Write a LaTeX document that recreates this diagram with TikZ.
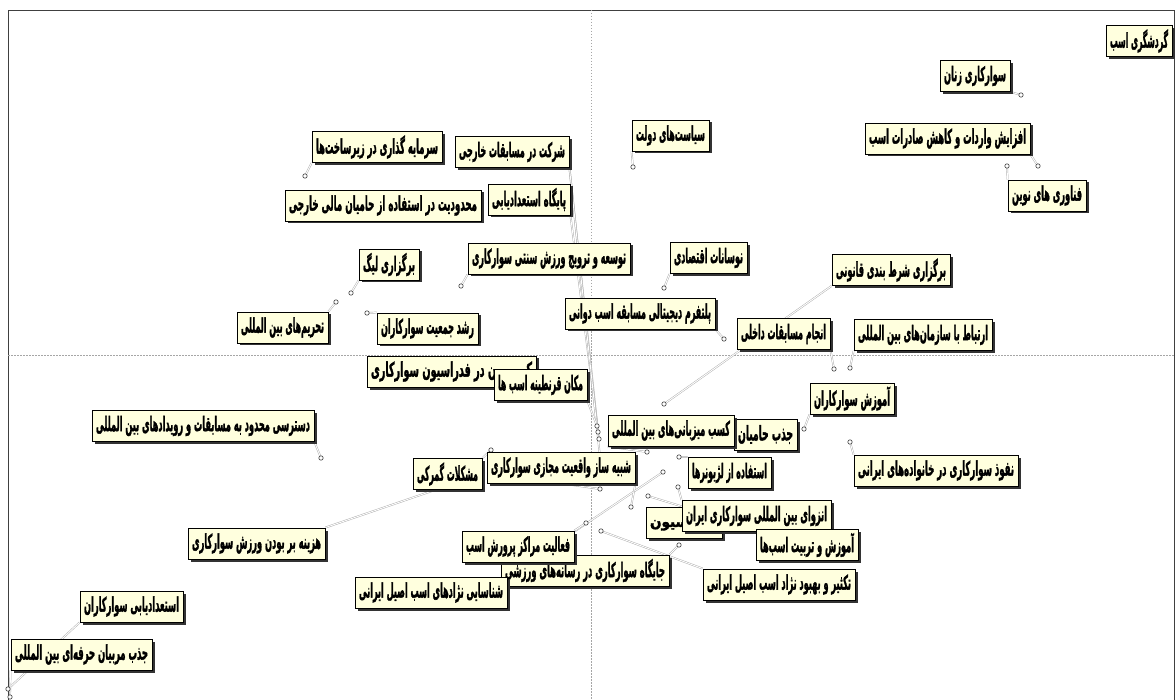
\documentclass[tikz,border=0pt]{standalone}
\usepackage{fontspec}
\usepackage{graphicx}
\usetikzlibrary{shadows}
\newfontfamily\farsi[Script=Arabic,FakeBold=2.2]{DejaVu Sans Bold}
\TeXXeTstate=1
\definecolor{boxfill}{RGB}{255,255,222}
\newsavebox\ptbox
\newcommand{\ptxt}[2]{\sbox\ptbox{\farsi #2}%
  \ifdim\wd\ptbox>\dimexpr#1pt-8pt\relax
    \resizebox{\dimexpr#1pt-8pt\relax}{\height}{\usebox\ptbox}%
  \else\usebox\ptbox\fi}
\newcommand{\plab}[5]{\node[lbl, minimum width=#4pt] (#1) at (#2,#3) {\ptxt{#4}{#5}};}
\pgfdeclarelayer{bg}
\pgfsetlayers{bg,main}
\tikzset{
  lbl/.style={draw=black, line width=0.9pt, fill=boxfill, inner sep=0pt, minimum height=31pt,
    drop shadow={shadow xshift=2.5pt, shadow yshift=-2.5pt, fill=black!80, opacity=1},
    font=\fontsize{20}{22}\selectfont},
  leader/.style={draw=gray!65, double=white, double distance=0.9pt, line width=0.45pt},
  ptmark/.style={draw=gray!50!black, line width=0.6pt, fill=white},
  axisline/.style={gray!70, line width=0.5pt, dash pattern=on 1.5pt off 1.5pt},
  framel/.style={black!75, line width=0.8pt}
}
\begin{document}
\begin{tikzpicture}[x=1pt,y=-1pt]
\useasboundingbox (0,0) rectangle (1175,700);
% labels
\plab{n1}{1139}{41}{66}{\beginR گردشگری اسب\endR}
\plab{n2}{975}{76}{70}{\beginR سوارکاری زنان\endR}
\plab{n3}{670.5}{135.5}{77}{\beginR سیاست^^^^200cهای دولت\endR}
\plab{n4}{947.5}{138.5}{165}{\beginR افزایش واردات و کاهش صادرات اسب\endR}
\plab{n5}{1047}{195.5}{78}{\beginR فناوری های نوین\endR}
\plab{n6}{512}{152}{114}{\beginR شرکت در مسابقات خارجی\endR}
\plab{n7}{377}{147}{130}{\beginR سرمایه گذاری در زیرساخت^^^^200cها\endR}
\plab{n8}{529}{199.5}{82}{\beginR پایگاه استعدادیابی\endR}
\plab{n9}{383}{205.5}{196}{\beginR محدودیت در استفاده از حامیان مالی خارجی\endR}
\plab{n10}{549}{258.5}{162}{\beginR توسعه و ترویج ورزش سنتی سوارکاری\endR}
\plab{n11}{708.5}{258}{77}{\beginR نوسانات اقتصادی\endR}
\plab{n12}{891}{270}{118}{\beginR برگزاری شرط بندی قانونی\endR}
\plab{n13}{389}{264.5}{60}{\beginR برگزاری لیگ\endR}
\plab{n14}{640}{313.5}{150}{\beginR پلتفرم دیجیتالی مسابقه اسب دوانی\endR}
\plab{n15}{783.5}{334}{93}{\beginR انجام مسابقات داخلی\endR}
\plab{n16}{923}{335}{138}{\beginR ارتباط با سازمان^^^^200cهای بین المللی\endR}
\plab{n17}{282.5}{327.5}{91}{\beginR تحریم^^^^200cهای بین المللی\endR}
\plab{n18}{427.5}{328.5}{101}{\beginR رشد جمعیت سوارکاران\endR}
\plab{n19}{451.5}{371.5}{169}{\beginR کمیسیون در فدراسیون سوارکاری\endR}
\plab{n20}{540.5}{385}{93}{\beginR مکان قرنطینه اسب ها\endR}
\plab{n21}{203}{426}{222}{\beginR دسترسی محدود به مسابقات و رویدادهای بین المللی\endR}
\plab{n23}{765.5}{434.5}{63}{\beginR جذب حامیان\endR}
\plab{n22}{671}{430.5}{126}{\beginR کسب میزبانی^^^^200cهای بین المللی\endR}
\plab{n24}{852}{398.5}{84}{\beginR آموزش سوارکاران\endR}
\plab{n25}{936}{470.5}{164}{\beginR نفوذ سوارکاری در خانواده^^^^200cهای ایرانی\endR}
\plab{n26}{729.5}{473}{83}{\beginR استفاده از لژیونرها\endR}
\plab{n27}{561}{467.5}{148}{\beginR شبیه ساز واقعیت مجازی سوارکاری\endR}
\plab{n28}{447.5}{474}{69}{\beginR مشکلات گمرکی\endR}
\plab{n30}{684}{523}{76}{\fontsize{15}{17}\selectfont\beginR فدراسیون\endR}
\plab{n29}{756.5}{516}{149}{\beginR انزوای بین المللی سوارکاری ایران\endR}
\plab{n31}{807}{545}{102}{\beginR آموزش و تربیت اسب^^^^200cها\endR}
\plab{n33}{585}{570.5}{168}{\beginR جایگاه سوارکاری در رسانه^^^^200cهای ورزشی\endR}
\plab{n32}{518}{546.5}{112}{\beginR فعالیت مراکز پرورش اسب\endR}
\plab{n34}{779}{584.5}{152}{\beginR تکثیر و بهبود نژاد اسب اصیل ایرانی\endR}
\plab{n35}{431}{592.5}{152}{\beginR شناسایی نژادهای اسب اصیل ایرانی\endR}
\plab{n36}{256.5}{543.5}{137}{\beginR هزینه بر بودن ورزش سوارکاری\endR}
\plab{n37}{131.5}{606.5}{103}{\beginR استعدادیابی سوارکاران\endR}
\plab{n38}{81.5}{654.5}{141}{\beginR جذب مربیان حرفه^^^^200cای بین المللی\endR}
% marker positions
\coordinate (p1) at (1021,95);
\coordinate (p2) at (633,167);
\coordinate (p3) at (1038,166);
\coordinate (p4) at (1007,166);
\coordinate (p5) at (305,176);
\coordinate (p6) at (351,293);
\coordinate (p7) at (336,302);
\coordinate (p8) at (461,286);
\coordinate (p9) at (664,288);
\coordinate (p10) at (367,313);
\coordinate (p11) at (724,339);
\coordinate (p12) at (664,404);
\coordinate (p13) at (834,369);
\coordinate (p14) at (850,368);
\coordinate (p15) at (804,429);
\coordinate (p16) at (850,442);
\coordinate (p17) at (321,458);
\coordinate (p18) at (598,432);
\coordinate (p19) at (599,439);
\coordinate (p20) at (600,457);
\coordinate (p21) at (597,426);
\coordinate (p22) at (647,452);
\coordinate (p23) at (679,457);
\coordinate (p24) at (663,472);
\coordinate (p25) at (678,487);
\coordinate (p26) at (600,489);
\coordinate (p27) at (631,507);
\coordinate (p28) at (648,496);
\coordinate (p29) at (586,523);
\coordinate (p30) at (601,531);
\coordinate (p31) at (679,545);
\coordinate (p32) at (491,450);
\coordinate (p33) at (470,478);
\coordinate (p34) at (8,689);
\coordinate (p35) at (10,697);
\begin{pgfonlayer}{bg}
  \fill[white] (0,0) rectangle (1175,700);
  \draw[framel] (8,700) -- (8,10) -- (1174,10) -- (1174,700);
  \draw[axisline] (591,10) -- (591,700);
  \draw[axisline] (8,355) -- (1174,355);
  % leaders
  \draw[leader] (n2.south east) -- (p1);
  \draw[leader] (n3.south west) -- (p2);
  \draw[leader] (n4.south east) -- (p3);
  \draw[leader] (n5.north west) -- (p4);
  \draw[leader] (n7.south west) -- (p5);
  \draw[leader] (n13.south west) -- (p6);
  \draw[leader] (n17.north east) -- (p7);
  \draw[leader] (n10.south west) -- (p8);
  \draw[leader] (n11.south west) -- (p9);
  \draw[leader] (n18.north west) -- (p10);
  \draw[leader] (n14.south east) -- (p11);
  \draw[leader] (n12.south west) -- (p12);
  \draw[leader] (n15.south east) -- (p13);
  \draw[leader] (n16.south west) -- (p14);
  \draw[leader] (n24.south west) -- (p15);
  \draw[leader] (n25.north west) -- (p16);
  \draw[leader] (n21.south east) -- (p17);
  \draw[leader] (n6.south east) -- (p18);
  \draw[leader] (n8.south east) -- (p19);
  \draw[leader] (n6.south east) -- (p20);
  \draw[leader] (n20.south east) -- (p21);
  \draw[leader] (n22.south west) -- (p22);
  \draw[leader] (n26.north west) -- (p23);
  \draw[leader] (n35.north east) -- (p24);
  \draw[leader] (n29.north west) -- (p25);
  \draw[leader] (n27.south) -- (p26);
  \draw[leader] (n27.south east) -- (p27);
  \draw[leader] (n30.north) -- (p28);
  \draw[leader] (n32.north east) -- (p29);
  \draw[leader] (n34.north west) -- (p30);
  \draw[leader] (n33.north east) -- (p31);
  \draw[leader] (n28.north east) -- (p32);
  \draw[leader] (n36.north east) -- (p33);
  \draw[leader] (n37.south west) -- (p34);
  \draw[leader] (n38.south west) -- (p35);
  % markers
  \foreach \p in {p1,p2,p3,p4,p5,p6,p7,p8,p9,p10,p11,p12,p13,p14,p15,p16,p17,p18,p19,p20,p21,p22,p23,p24,p25,p26,p27,p28,p29,p30,p31,p32,p34,p35}
    \draw[ptmark] (\p) circle (2.2pt);
\end{pgfonlayer}
\end{tikzpicture}
\end{document}
